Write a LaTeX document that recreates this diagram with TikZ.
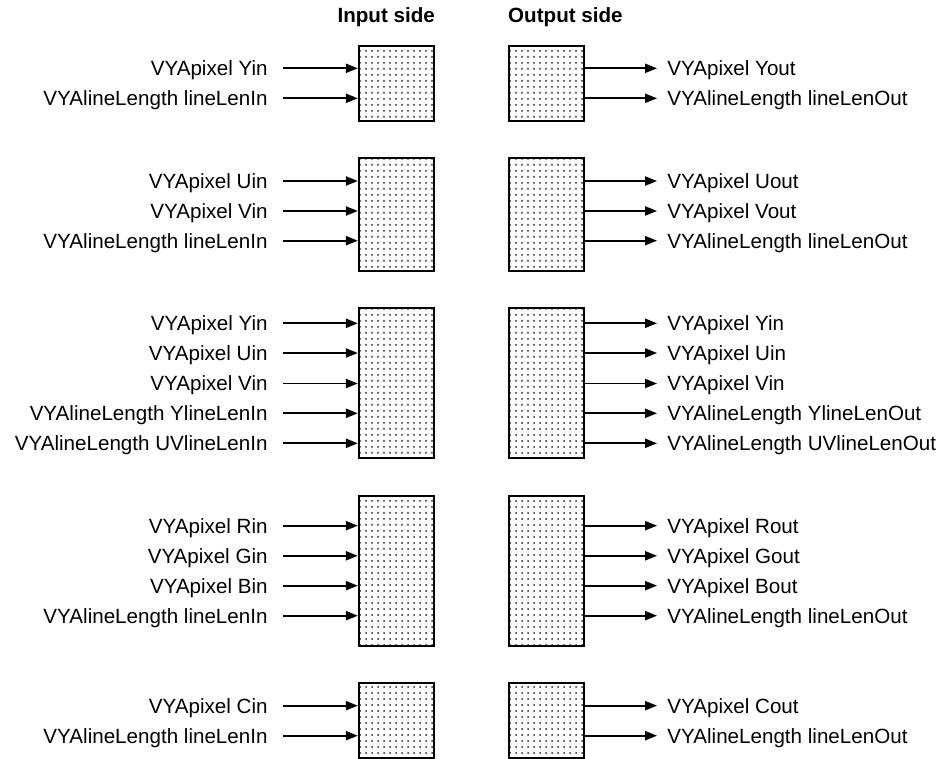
\documentclass[tikz,border=0pt]{standalone}
\usepackage{fontspec}
\setmainfont{Liberation Sans}
\usepackage{tikz}
\usetikzlibrary{arrows.meta, positioning, patterns}

\begin{document}
\begin{tikzpicture}[
        x=0.5pt, y=-0.5pt,
        font=\fontsize{10.3}{12}\selectfont,
        port/.style = {draw, line width=0.9pt, pattern=dots, pattern color=black!85, minimum width=37.8pt, inner sep=0pt},
        edge/.style = {-{Triangle[length=6pt, width=4.6pt]}, line width=0.85pt},
        inlabel/.style = {anchor=east, inner xsep=7.5pt, inner ysep=0pt, text depth=0pt},
        outlabel/.style = {anchor=west, inner xsep=5pt, inner ysep=0pt, text depth=0pt},
        heading/.style = {font=\fontsize{10.3}{12}\selectfont\bfseries, inner sep=0pt}
    ]
    \useasboundingbox (0,0) rectangle (947,759);

    % buffer blocks, input and output column
    \foreach \g/\c/\h in {1/83.2/37.5, 2/214.5/56.25, 3/383.3/75, 4/570.7/75, 5/720.2/37.5} {
        \node[port, minimum height=\h pt] (in\g) at (396.5,\c) {};
        \node[port, minimum height=\h pt] (out\g) at (546.5,\c) {};
    }

    \node[heading, anchor=east] (inhead) at (in1.east |- 0,17) {Input side};
    \node[heading, anchor=west] (outhead) at (out1.west |- 0,17) {Output side};

    % signals going in and out of each block
    \foreach \g/\y/\src/\dst [count=\i] in {
        1/68.3/VYApixel Yin/VYApixel Yout,
        1/98.3/VYAlineLength lineLenIn/VYAlineLength lineLenOut,
        2/181/VYApixel Uin/VYApixel Uout,
        2/211/VYApixel Vin/VYApixel Vout,
        2/240.7/VYAlineLength lineLenIn/VYAlineLength lineLenOut,
        3/323.3/VYApixel Yin/VYApixel Yin,
        3/353/VYApixel Uin/VYApixel Uin,
        3/383.5/VYApixel Vin/VYApixel Vin,
        3/413.3/VYAlineLength YlineLenIn/VYAlineLength YlineLenOut,
        3/443.3/VYAlineLength UVlineLenIn/VYAlineLength UVlineLenOut,
        4/525.7/VYApixel Rin/VYApixel Rout,
        4/555.8/VYApixel Gin/VYApixel Gout,
        4/585.7/VYApixel Bin/VYApixel Bout,
        4/615.7/VYAlineLength lineLenIn/VYAlineLength lineLenOut,
        5/705.7/VYApixel Cin/VYApixel Cout,
        5/735.7/VYAlineLength lineLenIn/VYAlineLength lineLenOut} {
        \node[inlabel] (src\i) at (283,\y) {\src};
        \node[outlabel] (dst\i) at (657,\y) {\dst};
        \draw[edge] (src\i.east) -- (src\i.east -| in\g.west);
        \draw[edge] (out\g.east |- dst\i.west) -- (dst\i.west);
    }
\end{tikzpicture}
\end{document}
